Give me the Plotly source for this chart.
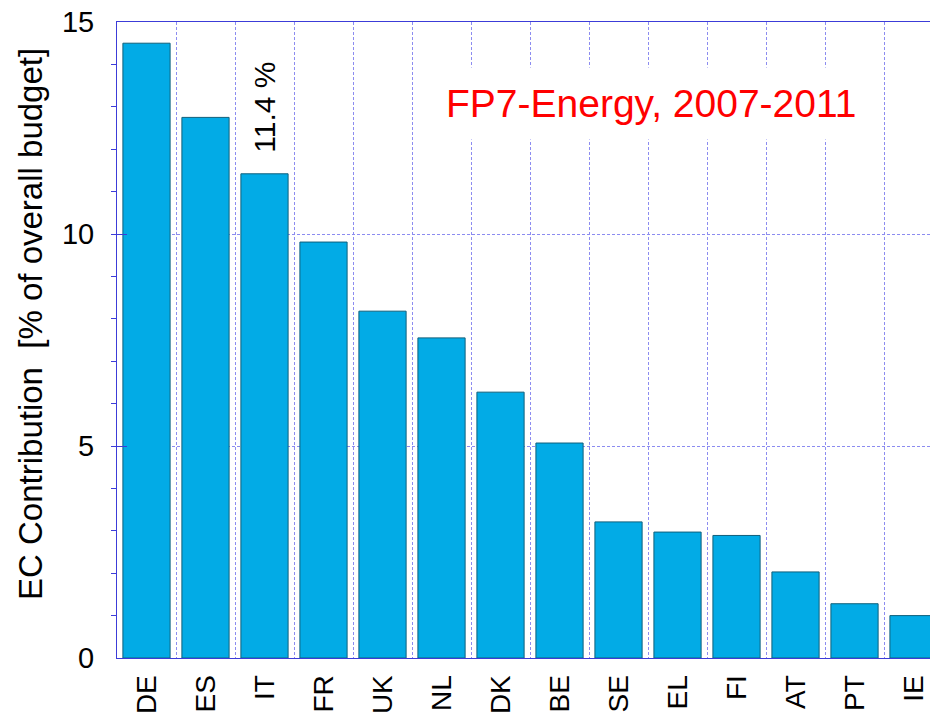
import plotly.graph_objects as go

countries = ["DE", "ES", "IT", "FR", "UK", "NL", "DK", "BE", "SE", "EL", "FI", "AT", "PT", "IE"]
contribution = [14.50, 12.75, 11.42, 9.81, 8.18, 7.55, 6.27, 5.07, 3.21, 2.97, 2.89, 2.03, 1.28, 1.00]
y_ticks = [0, 5, 10, 15]
title_text = "FP7-Energy, 2007-2011"
y_label = "EC Contribution  [% of overall budget]"
highlight_label = "11.4 %"
highlight_index = 2

FONT = "Liberation Sans, Arial, sans-serif"
GRID = "#8c8cf0"
AXIS = "#3c3cd8"

x_pos = list(range(len(countries)))

# page body has an 8px default margin: figure is sized/positioned to compensate
W, H = 930, 708
L, T, B, R = 109, 14, 58, 0
PW, PH = W - L - R, H - T - B

fig = go.Figure()
fig.add_trace(go.Bar(
    x=x_pos, y=contribution, width=0.8,
    marker=dict(color="#02abe6", line=dict(color="#10607c", width=1)),
    hoverinfo="x+y",
))

fig.update_layout(
    width=W, height=H,
    margin=dict(l=L, r=R, t=T, b=B, autoexpand=False),
    paper_bgcolor="white", plot_bgcolor="white",
    showlegend=False,
    font=dict(family=FONT, color="black"),
    bargap=0.2,
)

fig.update_xaxes(
    range=[-0.5, 13.415], automargin=False,
    tickmode="array", tickvals=x_pos, ticktext=countries,
    tickangle=-90, tickfont=dict(size=28, family=FONT),
    ticks="", showgrid=False, zeroline=False,
    showline=True, linecolor=AXIS, linewidth=1, mirror=True,
    ticklabelstandoff=5, ticklabeloverflow="allow",
    minor=dict(tickmode="array", tickvals=[i + 0.5 for i in range(-1, len(countries))],
               showgrid=True, gridcolor=GRID, griddash="3px,2px", gridwidth=1, ticks=""),
)

fig.update_yaxes(
    range=[0, 15], automargin=False,
    tickmode="array", tickvals=y_ticks,
    tickfont=dict(size=29, family=FONT),
    ticks="inside", ticklen=10, tickcolor=AXIS, tickwidth=1,
    showgrid=True, gridcolor=GRID, griddash="3px,2px", gridwidth=1,
    zeroline=False,
    showline=True, linecolor=AXIS, linewidth=1, mirror=True,
    ticklabelstandoff=16, ticklabeloverflow="allow",
    minor=dict(dtick=1, tick0=0, ticks="outside", ticklen=5, tickcolor=AXIS, showgrid=False),
)

fig.add_annotation(
    text=y_label, textangle=-90, showarrow=False,
    xref="paper", yref="paper", x=(30 - 117) / PW, y=(658 - 324) / PH,
    xanchor="center", yanchor="middle",
    font=dict(size=33, family=FONT, color="black"),
)

fig.add_annotation(
    text=highlight_label, textangle=-90, showarrow=False,
    xref="x", yref="y", x=highlight_index, y=contribution[highlight_index] + 0.45,
    xanchor="center", yanchor="bottom",
    font=dict(size=30, family=FONT, color="black"),
)

fig.add_annotation(
    text=title_text, showarrow=False,
    xref="paper", yref="paper", x=(651 - 117) / PW, y=(658 - 104) / PH,
    xanchor="center", yanchor="middle",
    bgcolor="white", borderpad=14,
    font=dict(size=39, family=FONT, color="#ff0000"),
)

fig.write_html("out.html")
